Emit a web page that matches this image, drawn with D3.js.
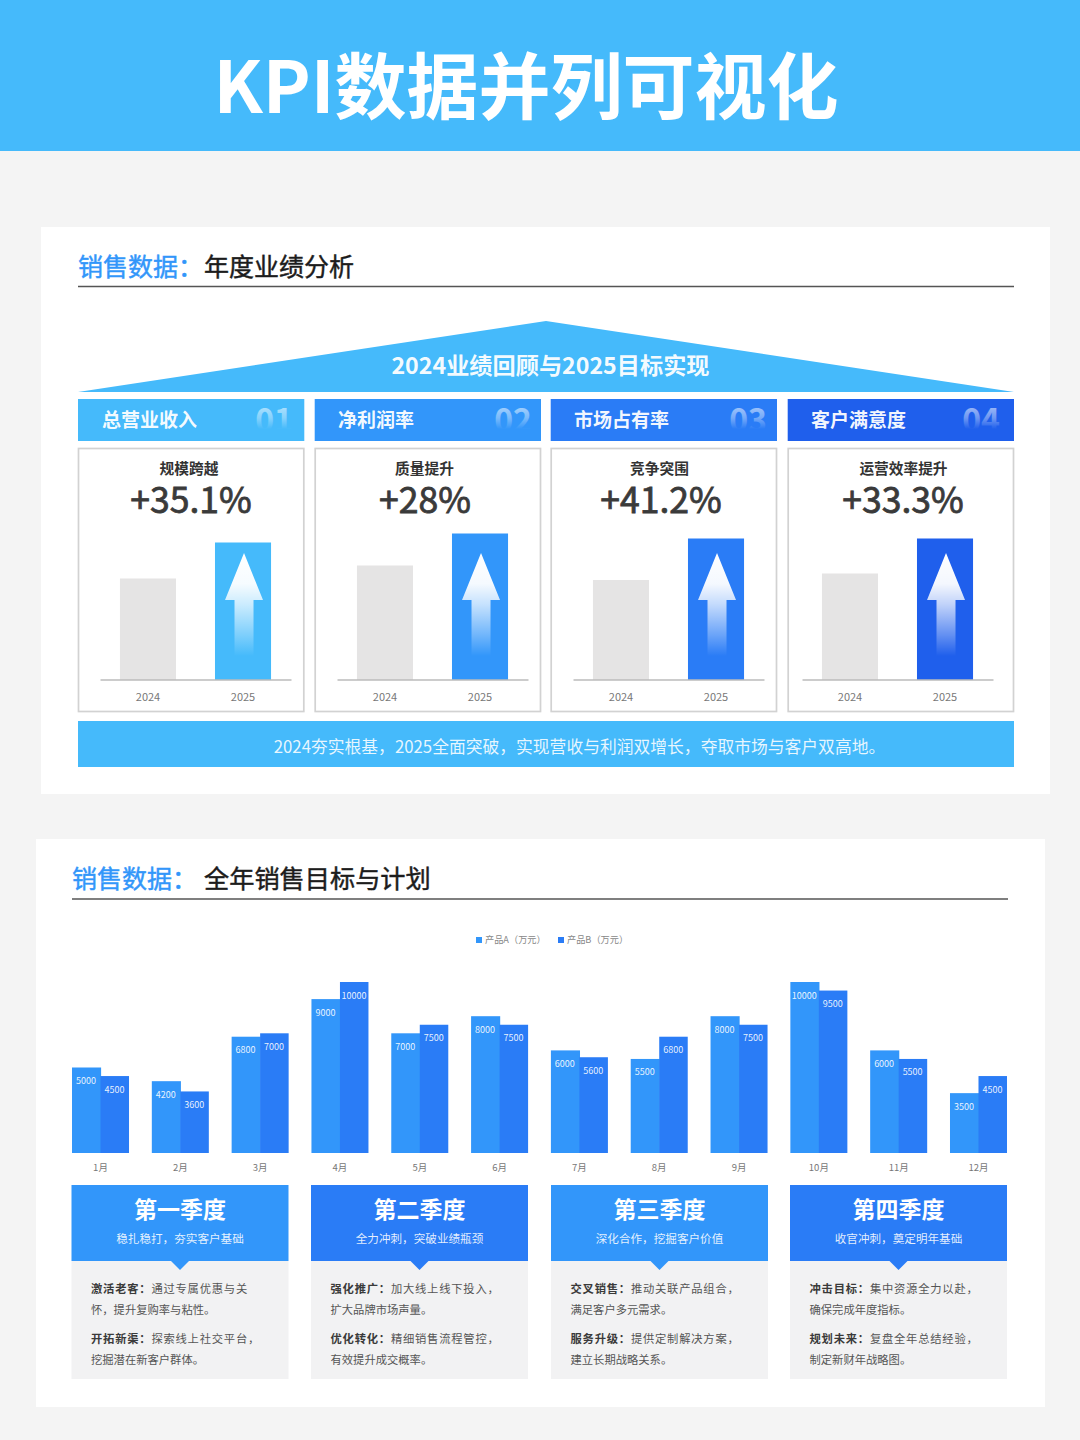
<!DOCTYPE html>
<html lang="zh">
<head>
<meta charset="utf-8">
<script src="https://cdn.jsdelivr.net/npm/d3@7/dist/d3.min.js"></script>
<style>
html,body{margin:0;padding:0;background:#f4f4f4}
svg{display:block}
text{font-family:"Noto Sans CJK SC","Noto Sans",sans-serif}
</style>
</head>
<body>
<div id="chart"></div>
<script>
// ---- data ----
const pageTitle = "KPI数据并列可视化";
const sectionOneTitle = ["销售数据\uFF1A", "年度业绩分析"];
const sectionTwoTitle = ["销售数据\uFF1A", "全年销售目标与计划"];
const roofTitle = "2024业绩回顾与2025目标实现";
const kpiNames = ["总营业收入", "净利润率", "市场占有率", "客户满意度"];
const kpiNumbers = ["01", "02", "03", "04"];
const kpiHeads = ["规模跨越", "质量提升", "竞争突围", "运营效率提升"];
const kpiGrowth = ["+35.1%", "+28%", "+41.2%", "+33.3%"];
const years = ["2024", "2025"];
const kpi2024 = [101, 114, 99.5, 106];
const kpi2025 = [137, 146, 141, 141];
const bandText = "2024夯实根基\uFF0C2025全面突破\uFF0C实现营收与利润双增长\uFF0C夺取市场与客户双高地。";

const months = ["1月","2月","3月","4月","5月","6月","7月","8月","9月","10月","11月","12月"];
const seriesNames = ["产品A\uFF08万元\uFF09", "产品B\uFF08万元\uFF09"];
const productA = [5000,4200,6800,9000,7000,8000,6000,5500,8000,10000,6000,3500];
const productB = [4500,3600,7000,10000,7500,7500,5600,6800,7500,9500,5500,4500];

const quarterNames = ["第一季度","第二季度","第三季度","第四季度"];
const quarterSubs = ["稳扎稳打\uFF0C夯实客户基础","全力冲刺\uFF0C突破业绩瓶颈","深化合作\uFF0C挖掘客户价值","收官冲刺\uFF0C奠定明年基础"];
const quarterItems = [
  [["激活老客\uFF1A","通过专属优惠与关","怀\uFF0C提升复购率与粘性。"],["开拓新渠\uFF1A","探索线上社交平台\uFF0C","挖掘潜在新客户群体。"]],
  [["强化推广\uFF1A","加大线上线下投入\uFF0C","扩大品牌市场声量。"],["优化转化\uFF1A","精细销售流程管控\uFF0C","有效提升成交概率。"]],
  [["交叉销售\uFF1A","推动关联产品组合\uFF0C","满足客户多元需求。"],["服务升级\uFF1A","提供定制解决方案\uFF0C","建立长期战略关系。"]],
  [["冲击目标\uFF1A","集中资源全力以赴\uFF0C","确保完成年度指标。"],["规划未来\uFF1A","复盘全年总结经验\uFF0C","制定新财年战略图。"]]
];

// ---- palette & layout ----
const C = {sky:"#45bafb", a:"#3296fa", b:"#2a7cf6", deep:"#1f5fec", grey:"#e5e4e4", ink:"#3a3a3a"};
const kpiColors = [C.sky, C.a, C.b, C.deep];
const quarterColors = [C.a, C.b, C.a, C.b];
const cardX = [78, 314.7, 550.7, 787.7], cardW = 226.3;
const nameX = [102, 338, 574, 811], numberRight = [293, 532, 767, 1000];
const axisX = [100, 337, 573, 802], axisW = 191;
const headX = [189, 424.5, 659.5, 903.5], growthX = [191, 425, 661, 903];
const quarterX = [71.5, 311, 551, 790], quarterW = 217;

const svg = d3.select("#chart").append("svg").attr("width",1080).attr("height",1440).attr("viewBox","0 0 1080 1440");
const defs = svg.append("defs");
const arrowGrad = defs.append("linearGradient").attr("id","arrowGrad").attr("x1",0).attr("y1",0).attr("x2",0).attr("y2",1);
[[0,1],[.3,.95],[.5,.72],[.8,.3],[1,0]].forEach(([o,a])=>arrowGrad.append("stop").attr("offset",o).attr("stop-color","#fff").attr("stop-opacity",a));
const numGrad = defs.append("linearGradient").attr("id","numGrad").attr("gradientUnits","userSpaceOnUse").attr("x1",0).attr("y1",407).attr("x2",0).attr("y2",429);
[[0,.55],[.5,.35],[1,0]].forEach(([o,a])=>numGrad.append("stop").attr("offset",o).attr("stop-color","#fff").attr("stop-opacity",a));

function rect(g,x,y,w,h,fill){return g.append("rect").attr("x",x).attr("y",y).attr("width",w).attr("height",h).attr("fill",fill);}
function label(g,x,y,s,size,fill,weight,anchor){return g.append("text").attr("x",x).attr("y",y).attr("font-size",size).attr("fill",fill).attr("font-weight",weight||400).attr("text-anchor",anchor||"start").text(s);}
function medium(t,fill,w){return t.attr("stroke",fill).attr("stroke-width",w||.45);}

// page
rect(svg,0,0,1080,1440,"#f4f4f4");
rect(svg,0,0,1080,151,C.sky);
label(svg,526,113,pageTitle,72,"#fff",700,"middle");

// section titles
function sectionTitle(x,base,titleX,ruleY,parts,size){
  medium(label(svg,x,base,parts[0],25,C.a,400),C.a);
  medium(label(svg,titleX,base,parts[1],size,"#1c1c1c",400),"#1c1c1c");
  svg.append("line").attr("x1",x).attr("x2",x+936).attr("y1",ruleY).attr("y2",ruleY).attr("stroke","#555").attr("stroke-width",1.3);
}
rect(svg,41,227,1009,567,"#fff");
rect(svg,36,839,1009,568,"#fff");
sectionTitle(78,276,204,286.5,sectionOneTitle,25);
sectionTitle(72,888,204,899,sectionTwoTitle,25.2);

// roof
svg.append("path").attr("d",d3.line()([[78,392],[546,321],[1014,392]])+"Z").attr("fill",C.sky);
label(svg,550.5,374,roofTitle,23.2,"#fff",700,"middle").attr("fill-opacity",.95);

// KPI panels
const yKpi = d3.scaleLinear().domain([0,150]).range([679.5,529.5]);
kpiNames.forEach((name,i)=>{
  const g = svg.append("g").attr("class","kpi");
  rect(g,cardX[i],399,cardW,42,kpiColors[i]);
  label(g,nameX[i],427,name,19,"#fff",700).attr("fill-opacity",.96);
  label(g,numberRight[i],432,kpiNumbers[i],32,"url(#numGrad)",700,"end");
  g.append("rect").attr("x",cardX[i]+.5).attr("y",448.5).attr("width",cardW-1).attr("height",263).attr("fill","#fff").attr("stroke","#d2d2d2").attr("stroke-width",1.7);
  label(g,headX[i],474,kpiHeads[i],14.7,"#333",700,"middle");
  medium(label(g,growthX[i],513,kpiGrowth[i],35.5,C.ink,400,"middle"),C.ink,.8);

  const x = d3.scaleBand().domain(years).range([axisX[i],axisX[i]+axisW]).paddingInner(.41).paddingOuter(.21);
  const vals = [kpi2024[i],kpi2025[i]];
  g.selectAll("rect.kbar").data(years).join("rect").attr("class","kbar")
    .attr("x",d=>x(d)).attr("width",x.bandwidth())
    .attr("y",(d,j)=>yKpi(vals[j])).attr("height",(d,j)=>yKpi(0)-yKpi(vals[j]))
    .attr("fill",(d,j)=>j?kpiColors[i]:C.grey);
  const cx = x(years[1])+x.bandwidth()/2+1;
  g.append("path").attr("fill","url(#arrowGrad)")
    .attr("d",d3.line()([[cx,553],[cx+19,600],[cx+9.5,600],[cx+9.5,656],[cx-9.5,656],[cx-9.5,600],[cx-19,600]])+"Z");
  const axis = g.append("g").attr("transform",`translate(0,${yKpi(0)})`)
    .call(d3.axisBottom(x).tickSize(0).tickPadding(14));
  axis.select(".domain").attr("stroke","#9a9a9a").attr("stroke-width",1.2);
  axis.selectAll("text").attr("font-size",11).attr("fill","#777").attr("font-family",'"Noto Sans CJK SC"');
});
rect(svg,78,721,936,46,C.sky);
label(svg,579.5,752.5,bandText,16.8,"#fff",400,"middle").attr("fill-opacity",.88);

// monthly chart
const xM = d3.scaleBand().domain(months).range([72,1007]).paddingInner(2/7).paddingOuter(0);
const xS = d3.scaleBand().domain(["a","b"]).range([0,xM.bandwidth()]);
const yM = d3.scaleLinear().domain([0,10000]).range([1153,982]);
const chart = svg.append("g").attr("class","monthly");
[["a",productA,C.a],["b",productB,C.b]].forEach(([key,vals,col])=>{
  const s = chart.append("g");
  s.selectAll("rect").data(vals).join("rect")
    .attr("x",(d,i)=>xM(months[i])+xS(key)).attr("width",xS.bandwidth()+(key==="a"?.6:0))
    .attr("y",d=>yM(d)).attr("height",d=>yM(0)-yM(d)).attr("fill",col);
});
[["a",productA],["b",productB]].forEach(([key,vals])=>{
  chart.append("g").selectAll("text").data(vals).join("text")
    .attr("x",(d,i)=>xM(months[i])+xS(key)+xS.bandwidth()/2-.3).attr("y",d=>yM(d)+16.5)
    .attr("text-anchor","middle").attr("font-size",9).attr("fill","#fff").attr("fill-opacity",.9).text(d=>d);
});
const mAxis = chart.append("g").attr("transform",`translate(0,${yM(0)})`).call(d3.axisBottom(xM).tickSize(0).tickPadding(11));
mAxis.select(".domain").remove();
mAxis.selectAll("text").attr("font-size",9.5).attr("fill","#777").attr("font-family",'"Noto Sans CJK SC"');

// legend
[[476,C.a],[558,C.b]].forEach(([lx,col],i)=>{
  rect(svg,lx,937,6,6,col);
  label(svg,lx+9,943,seriesNames[i],9.2,"#888");
});

// quarters
quarterNames.forEach((name,i)=>{
  const g = svg.append("g").attr("class","quarter"), x0 = quarterX[i], cx = x0+quarterW/2;
  rect(g,x0,1261,quarterW,118,"#f2f2f3");
  rect(g,x0,1185,quarterW,76,quarterColors[i]);
  g.append("path").attr("fill",quarterColors[i]).attr("d",d3.line()([[cx-9,1261],[cx+9,1261],[cx,1270]])+"Z");
  label(g,cx,1218,name,23,"#fff",700,"middle");
  label(g,cx,1243,quarterSubs[i],11.6,"#fff",400,"middle").attr("fill-opacity",.88);
  quarterItems[i].forEach((item,j)=>{
    const base = 1293 + j*49.5;
    const t = g.append("text").attr("x",x0+19.5).attr("y",base).attr("font-size",11.3).attr("fill","#555").attr("letter-spacing",.78);
    t.append("tspan").attr("font-weight",700).attr("fill","#3a3a3a").text(item[0]);
    t.append("tspan").text(item[1]);
    label(g,x0+19.5,base+21,item[2],11.3,"#555");
  });
});
</script>
</body>
</html>
